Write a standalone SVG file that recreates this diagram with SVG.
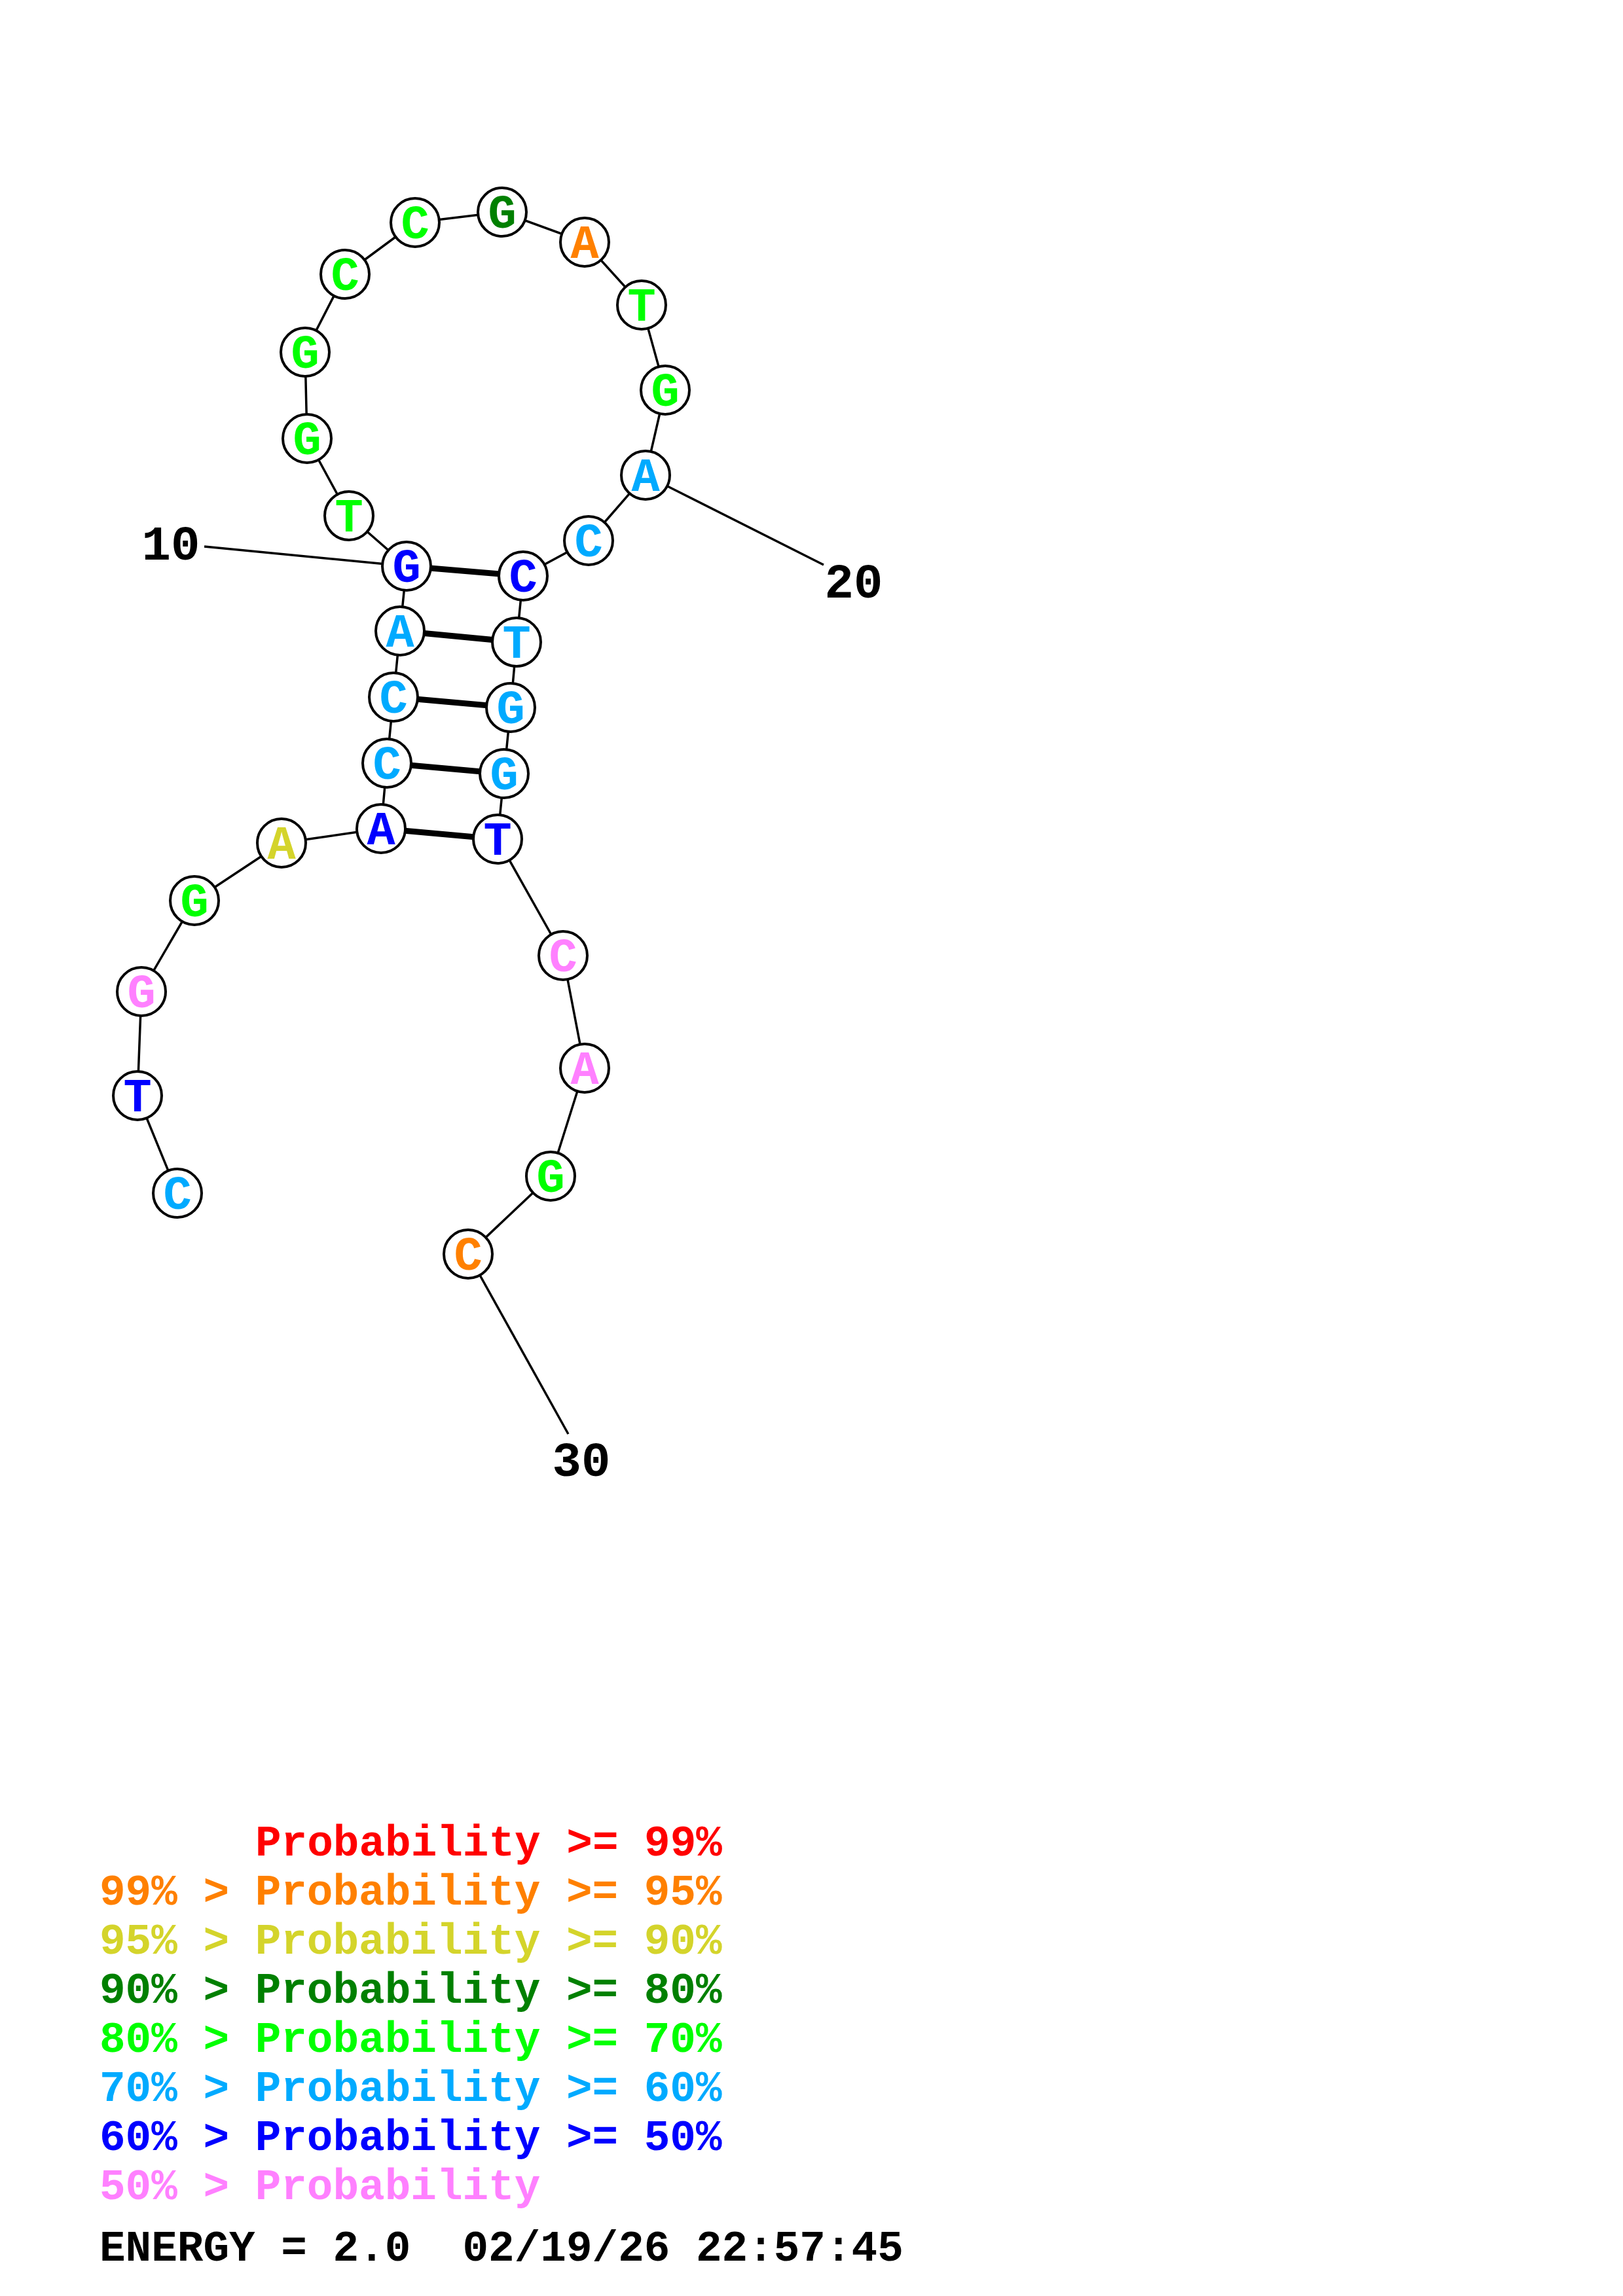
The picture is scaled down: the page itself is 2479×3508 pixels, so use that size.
<svg xmlns="http://www.w3.org/2000/svg" width="2479" height="3508" viewBox="0 0 2479 3508">
<style>
.bb{stroke:#000;stroke-width:3.5;fill:none}
.pr{stroke:#000;stroke-width:9;fill:none}
.nd circle{fill:#fff;stroke:#000;stroke-width:4}
.nd text{font-family:"Liberation Mono","Courier New",monospace;font-weight:bold;font-size:72px;text-anchor:middle}
.lbl{font-family:"Liberation Mono","Courier New",monospace;font-weight:bold;font-size:74px;text-anchor:middle;fill:#000}
.lg{font-family:"Liberation Mono","Courier New",monospace;font-weight:bold;font-size:66px}
.c1{fill:#FF0000}.c2{fill:#FF8000}.c3{fill:#D4D42B}.c4{fill:#008000}.c5{fill:#00FF00}.c6{fill:#00AAFF}.c7{fill:#0000FF}.c8{fill:#FF80FF}
</style>
<rect width="2479" height="3508" fill="#fff"/>
<g id="connectors">
<polyline class="bb" points="271,1823 210,1674 216,1515 297,1376 430,1288 582,1266 591,1166 601,1065 611,964 621,865 533,788 469,670 466,538 527,419 634,340 767,324 893,370 980,466 1016,596 986,726 899,826 799,880 789,981 780,1081 770,1182 760,1282 860,1460 893,1632 841,1797 715,1916"/>
<line class="pr" x1="582" y1="1266" x2="760" y2="1282"/>
<line class="pr" x1="591" y1="1166" x2="770" y2="1182"/>
<line class="pr" x1="601" y1="1065" x2="780" y2="1081"/>
<line class="pr" x1="611" y1="964" x2="789" y2="981"/>
<line class="pr" x1="621" y1="865" x2="799" y2="880"/>
<line class="bb" x1="312" y1="835" x2="621" y2="865"/>
<line class="bb" x1="986" y1="726" x2="1258" y2="863"/>
<line class="bb" x1="715" y1="1916" x2="868" y2="2191"/>
</g>
<g id="n1" class="nd"><circle cx="271" cy="1823" r="37"/><text x="271" y="1847" class="c6">C</text></g>
<g id="n2" class="nd"><circle cx="210" cy="1674" r="37"/><text x="210" y="1698" class="c7">T</text></g>
<g id="n3" class="nd"><circle cx="216" cy="1515" r="37"/><text x="216" y="1539" class="c8">G</text></g>
<g id="n4" class="nd"><circle cx="297" cy="1376" r="37"/><text x="297" y="1400" class="c5">G</text></g>
<g id="n5" class="nd"><circle cx="430" cy="1288" r="37"/><text x="430" y="1312" class="c3">A</text></g>
<g id="n6" class="nd"><circle cx="582" cy="1266" r="37"/><text x="582" y="1290" class="c7">A</text></g>
<g id="n7" class="nd"><circle cx="591" cy="1166" r="37"/><text x="591" y="1190" class="c6">C</text></g>
<g id="n8" class="nd"><circle cx="601" cy="1065" r="37"/><text x="601" y="1089" class="c6">C</text></g>
<g id="n9" class="nd"><circle cx="611" cy="964" r="37"/><text x="611" y="988" class="c6">A</text></g>
<g id="n10" class="nd"><circle cx="621" cy="865" r="37"/><text x="621" y="889" class="c7">G</text></g>
<g id="n11" class="nd"><circle cx="533" cy="788" r="37"/><text x="533" y="812" class="c5">T</text></g>
<g id="n12" class="nd"><circle cx="469" cy="670" r="37"/><text x="469" y="694" class="c5">G</text></g>
<g id="n13" class="nd"><circle cx="466" cy="538" r="37"/><text x="466" y="562" class="c5">G</text></g>
<g id="n14" class="nd"><circle cx="527" cy="419" r="37"/><text x="527" y="443" class="c5">C</text></g>
<g id="n15" class="nd"><circle cx="634" cy="340" r="37"/><text x="634" y="364" class="c5">C</text></g>
<g id="n16" class="nd"><circle cx="767" cy="324" r="37"/><text x="767" y="348" class="c4">G</text></g>
<g id="n17" class="nd"><circle cx="893" cy="370" r="37"/><text x="893" y="394" class="c2">A</text></g>
<g id="n18" class="nd"><circle cx="980" cy="466" r="37"/><text x="980" y="490" class="c5">T</text></g>
<g id="n19" class="nd"><circle cx="1016" cy="596" r="37"/><text x="1016" y="620" class="c5">G</text></g>
<g id="n20" class="nd"><circle cx="986" cy="726" r="37"/><text x="986" y="750" class="c6">A</text></g>
<g id="n21" class="nd"><circle cx="899" cy="826" r="37"/><text x="899" y="850" class="c6">C</text></g>
<g id="n22" class="nd"><circle cx="799" cy="880" r="37"/><text x="799" y="904" class="c7">C</text></g>
<g id="n23" class="nd"><circle cx="789" cy="981" r="37"/><text x="789" y="1005" class="c6">T</text></g>
<g id="n24" class="nd"><circle cx="780" cy="1081" r="37"/><text x="780" y="1105" class="c6">G</text></g>
<g id="n25" class="nd"><circle cx="770" cy="1182" r="37"/><text x="770" y="1206" class="c6">G</text></g>
<g id="n26" class="nd"><circle cx="760" cy="1282" r="37"/><text x="760" y="1306" class="c7">T</text></g>
<g id="n27" class="nd"><circle cx="860" cy="1460" r="37"/><text x="860" y="1484" class="c8">C</text></g>
<g id="n28" class="nd"><circle cx="893" cy="1632" r="37"/><text x="893" y="1656" class="c8">A</text></g>
<g id="n29" class="nd"><circle cx="841" cy="1797" r="37"/><text x="841" y="1821" class="c5">G</text></g>
<g id="n30" class="nd"><circle cx="715" cy="1916" r="37"/><text x="715" y="1940" class="c2">C</text></g>
<g id="labels">
<text class="lbl" x="261" y="855">10</text>
<text class="lbl" x="1304" y="913">20</text>
<text class="lbl" x="888" y="2255">30</text>
</g>
<g id="legend" class="lg">
<text x="390" y="2835" class="c1">Probability &gt;= 99%</text>
<text x="152" y="2910" class="c2">99% &gt; Probability &gt;= 95%</text>
<text x="152" y="2985" class="c3">95% &gt; Probability &gt;= 90%</text>
<text x="152" y="3060" class="c4">90% &gt; Probability &gt;= 80%</text>
<text x="152" y="3135" class="c5">80% &gt; Probability &gt;= 70%</text>
<text x="152" y="3210" class="c6">70% &gt; Probability &gt;= 60%</text>
<text x="152" y="3285" class="c7">60% &gt; Probability &gt;= 50%</text>
<text x="152" y="3360" class="c8">50% &gt; Probability</text>
<text x="152" y="3454" fill="#000" xml:space="preserve">ENERGY = 2.0  02/19/26 22:57:45</text>
</g>
</svg>
